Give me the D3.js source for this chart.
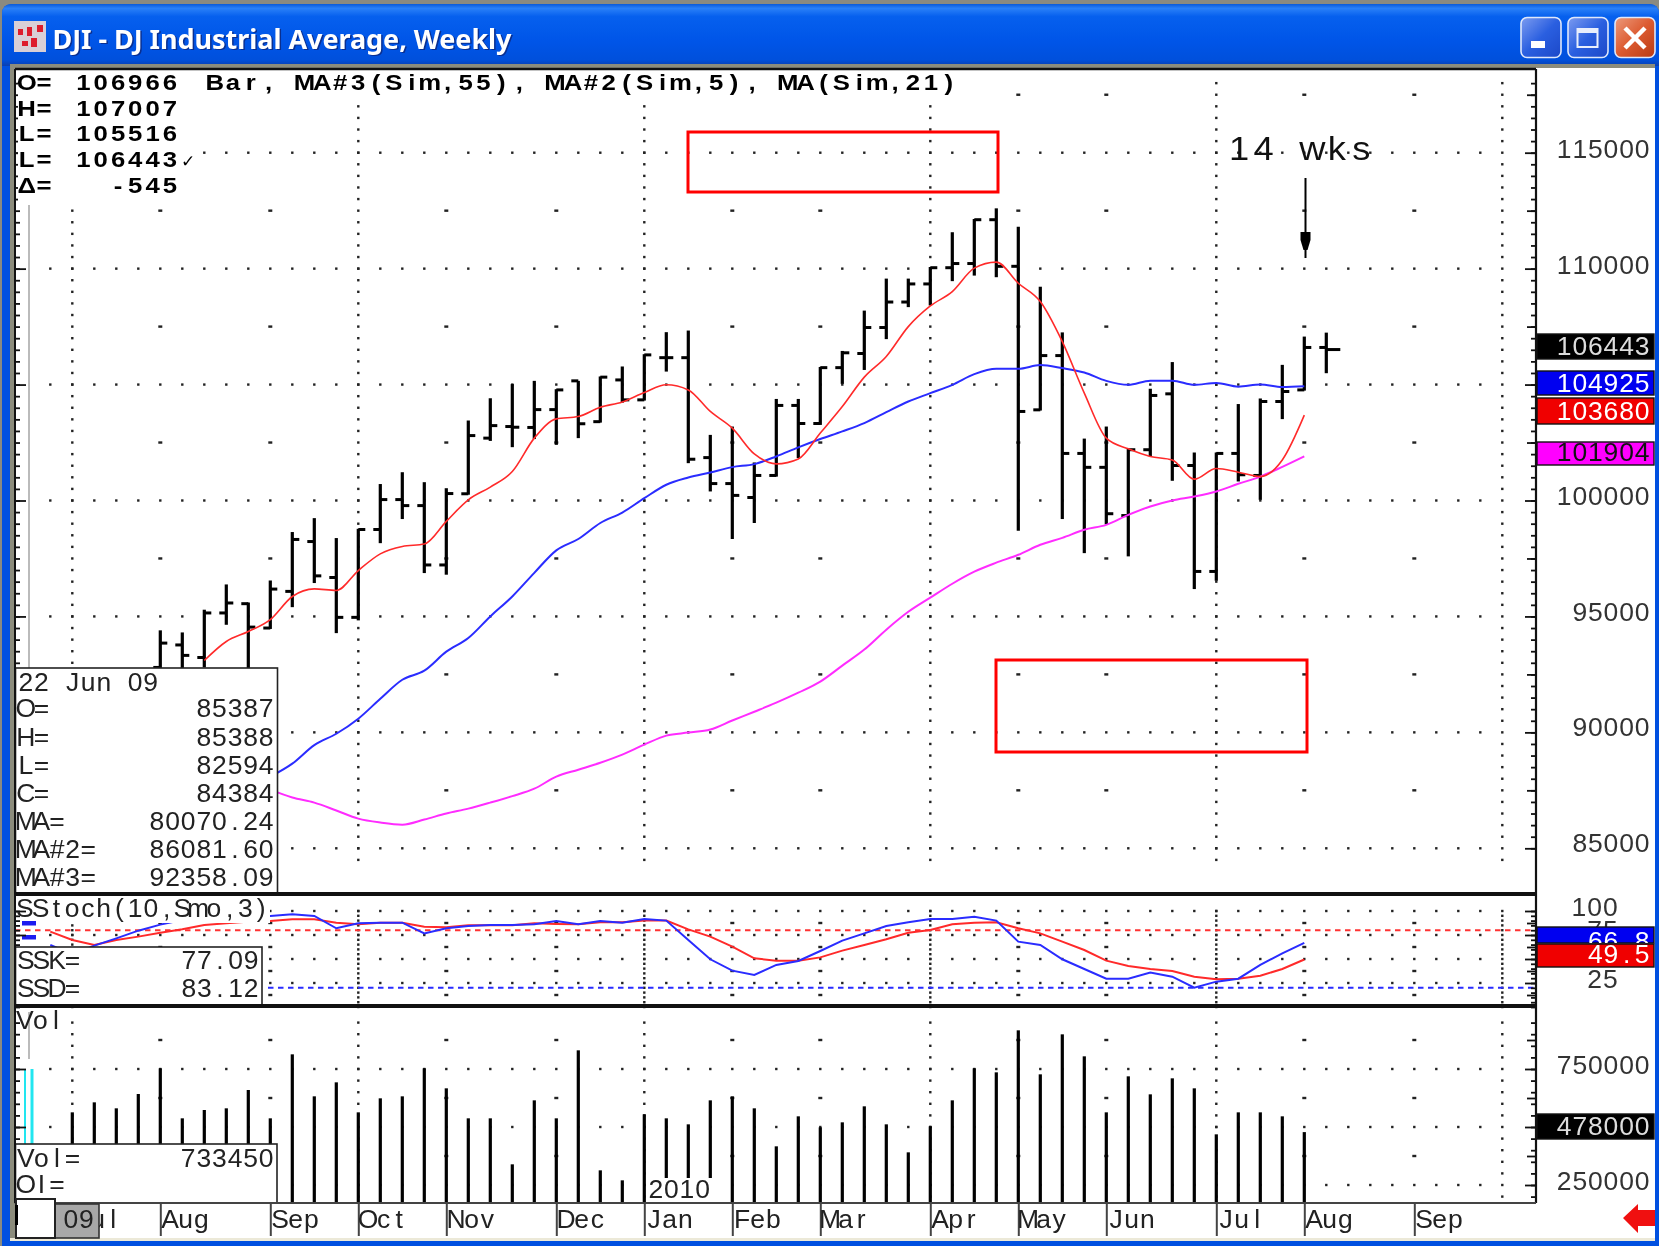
<!DOCTYPE html>
<html>
<head>
<meta charset="utf-8">
<title>DJI - DJ Industrial Average, Weekly</title>
<script src="https://cdn.jsdelivr.net/npm/d3@7"></script>
<style>
  html, body { margin: 0; padding: 0; background: #fff; }
  svg { display: block; filter: blur(0.45px); }
  text { font-family: "Liberation Sans", Arial, sans-serif; white-space: pre; }
</style>
</head>
<body>
<svg id="chart"></svg>
<script>
// Weekly bars, week 0 = first week of Jul 2009. Price bars start at week 4,
// the ones before that are hidden behind the data box.
const priceFirstWeek = 4;
const priceOpen = [92800,93770,93230,95150,95550,94500,96080,98230,96680,94960,98750,100040,99780,97220,100290,102690,103190,103150,103920,105160,103400,105200,104340,106160,106160,101850,100730,100130,101080,104100,103320,105730,106340,107460,108560,109340,110040,110220,112110,110100,103910,106250,102030,101430,99350,102190,104600,101510,96940,102030,101080,104270,104770,106600];
const priceHigh = [94400,94310,95290,96380,95600,96550,98640,99240,98380,98780,100710,101220,100790,100530,103450,104410,105020,105160,104800,105160,105350,105780,106310,107260,107330,102830,103190,101640,104380,104380,105760,106450,108190,109570,109570,110070,111570,112140,112600,111810,109220,107250,102670,103190,102220,104820,105970,102070,102070,104160,104400,105850,107070,107240];
const priceLow = [92300,92500,92800,94640,92600,94460,95400,96440,94280,94830,98160,99200,96870,96800,100250,102570,102300,102650,102400,102690,103360,104220,104310,105560,101610,100390,98340,99030,101030,101830,103260,105030,105630,106960,108340,108410,109460,109700,109630,98690,103880,99200,97730,98970,97590,101900,100850,96180,96540,100820,100030,103510,104740,105490];
const priceClose = [93850,93320,95150,95580,94540,96180,98320,96750,94960,98750,100040,99780,97220,100300,102800,103230,103160,103920,104770,103310,105320,104340,106280,106160,101780,100730,100220,101080,104100,103320,105730,106370,107460,108560,109340,110040,110220,112110,110100,103840,106250,102030,101430,99430,102190,104530,101510,96940,102030,101110,104270,104700,106600,106510];

// MA#2 (Sim,5), red, from week 6
const ma2First = 6;
const ma2 = [93100,93920,94350,94860,95860,96190,96120,96980,97700,98020,98120,99100,100030,100580,101250,102690,103520,103620,104020,104250,104660,104990,104770,103840,103120,102010,101580,101790,102910,104050,105320,106210,107500,108390,109010,110020,110280,109370,108580,106850,104630,102690,102230,101900,101750,100920,101380,101220,101030,101750,103680];
// MA (Sim,21), blue, from week 9
const ma1First = 9;
const ma1 = [88090,88650,89450,89940,90590,91450,92270,92660,93480,94070,95000,95860,96880,97850,98340,99030,99480,100100,100680,100990,101210,101440,101570,101900,102290,102650,102980,103340,103810,104270,104630,104990,105450,105680,105680,105840,105710,105520,105160,104990,105170,105170,104990,105070,104910,105000,104890,104925];
// MA#3 (Sim,55), magenta, from week 9
const ma3First = 9;
const ma3 = [87530,87190,86970,86630,86280,86110,86020,86240,86500,86710,86970,87250,87570,88090,88390,88690,89040,89470,89860,89990,90120,90510,90890,91280,91710,92190,92880,93570,94430,95200,95810,96410,96930,97320,97660,98090,98390,98740,98950,99380,99740,100000,100170,100390,100720,101030,101450,101904];

// Slow stochastic, from week -1
const stochFirst = -1;
const ssk = [64.6,55,63.9,71.5,79.5,85.8,90.6,92.4,94.1,94.8,94.8,96.5,94.8,82,87.2,87.8,87.8,76.7,82,84.4,85.4,85.4,86.1,89.6,86.1,89.6,87.8,91.7,90,69.8,49.7,37.9,33.3,43.8,47.9,58.3,69.1,76.7,84.4,88.2,91.7,91.7,94.1,90,68.1,64.6,49.7,39.6,29.5,29.5,35.8,31.6,20.1,26.4,29.5,43.8,55.9,66.8];
const ssd = [78.5,69.8,64.6,69.8,73.3,77.4,80.9,85.4,87.2,88.9,89.6,91.3,91.3,87.8,86.1,87.8,87.8,83.7,83,85.1,85.1,85.1,87.2,86.5,86.1,88.2,88.2,90,90,80.9,73.3,62.9,50.7,48.3,48.3,51.7,58.7,64.6,70.5,77.4,80.2,86.1,87.8,88.2,82,76.7,68.1,59.4,48.3,42.7,39.6,37.5,31.6,28.8,29.5,32.6,39.6,49.5];

// Volume, from week 0
const volume = [563200,606300,580500,642200,752900,537400,573300,580500,659500,537400,813200,632200,692500,563200,623600,632200,752900,666700,537400,537400,339100,614900,537400,830500,313200,270100,554600,537400,511500,614900,632200,580500,416700,546000,498600,520100,589100,511500,390800,502900,614900,752900,735600,916700,727000,899400,804600,563200,718400,640800,709800,666700,468400,563200,563200,546000,478000];

const monthNames = ["Jul","Aug","Sep","Oct","Nov","Dec","Jan","Feb","Mar","Apr","May","Jun","Jul","Aug","Sep"];
const monthWeeks = [0,4,9,13,17,22,26,30,34,39,43,47,52,56,61];
const quarterWeeks = [0,13,26,39,52,65];

const priceLabels = [115000,110000,100000,95000,90000,85000];
const volLabels = [750000,250000];

const hoverLines = [["O=","85387"],["H=","85388"],["L=","82594"],["C=","84384"],["MA=","80070.24"],["MA#2=","86081.60"],["MA#3=","92358.09"]];
const statLines = [["O=","106966"],["H=","107007"],["L=","105516"],["L=","106443"],["Δ=","-545"]];

const width = 1659, height = 1246;
const plot = {left: 15, right: 1536, top: 69, div1: 894, div2: 1006, bottom: 1203};

const svg = d3.select("#chart").attr("width", width).attr("height", height);

const x = d3.scaleLinear().domain([0, 56]).range([72.3, 1304.3]);
const yPrice = d3.scaleLinear().domain([85000, 115000]).range([848.3, 152.7]);
const yStoch = d3.scaleLinear().domain([0, 100]).range([1007, 911]);
const yVol = d3.scaleLinear().domain([250000, 750000]).range([1185, 1069]);
// the price labels drift a little against their ticks in the screenshot
const yPriceLabel = d3.scaleLinear().domain([85000, 115000]).range([851.8, 158]);

// text drawn in fixed width cells, like the original terminal font;
// stretch widens the glyphs a bit since the screenshot was scaled unevenly
function mono(g, str, px, py, o = {}) {
    const cell = o.cell || 15.6;
    const stretch = o.stretch || 1.06;
    const start = o.right ? px - str.length * cell : px;
    const xs = Array.from(str, (c, k) => ((start + cell * (k + 0.5)) / stretch).toFixed(1));
    return g.append("text")
        .attr("x", xs.join(" "))
        .attr("y", py)
        .attr("transform", `scale(${stretch},1)`)
        .attr("text-anchor", "middle")
        .attr("font-size", o.size || 25)
        .attr("font-weight", o.weight || "normal")
        .attr("fill", o.fill || "#222")
        .text(str);
}

// ---------- window frame ----------
const defs = svg.append("defs");
const titleGrad = defs.append("linearGradient").attr("id", "titleGrad").attr("x2", 0).attr("y2", 1);
[[0, "#0a5ad8"], [0.07, "#2a80f8"], [0.2, "#0660ee"], [0.6, "#0055e8"], [0.9, "#0050dc"], [1, "#0a3fb0"]]
    .forEach(s => titleGrad.append("stop").attr("offset", s[0]).attr("stop-color", s[1]));
const btnGrad = defs.append("linearGradient").attr("id", "btnGrad").attr("x2", 1).attr("y2", 1);
[[0, "#7d9cf0"], [0.5, "#2a5fe0"], [1, "#1c48c8"]]
    .forEach(s => btnGrad.append("stop").attr("offset", s[0]).attr("stop-color", s[1]));
const closeGrad = defs.append("linearGradient").attr("id", "closeGrad").attr("x2", 1).attr("y2", 1);
[[0, "#ec9a7c"], [0.5, "#dc5a30"], [1, "#b83a14"]]
    .forEach(s => closeGrad.append("stop").attr("offset", s[0]).attr("stop-color", s[1]));

svg.append("rect").attr("width", width).attr("height", height).attr("fill", "#8a8a80");
svg.append("path").attr("d", "M2 1246V14Q2 4 12 4H1649Q1659 4 1659 14V1246Z").attr("fill", "#0050e0");
svg.append("path").attr("d", "M2 66V14Q2 4 12 4H1649Q1659 4 1659 14V66Z").attr("fill", "url(#titleGrad)");
svg.append("rect").attr("x", 10).attr("y", 64).attr("width", 1645).attr("height", 1176).attr("fill", "#fff");
svg.append("rect").attr("x", 10).attr("y", 64).attr("width", 1645).attr("height", 4).attr("fill", "#8c8c7c");
svg.append("rect").attr("x", 10).attr("y", 64).attr("width", 5).attr("height", 1176).attr("fill", "#8c8c7c");
svg.append("rect").attr("x", 10).attr("y", 1238).attr("width", 1645).attr("height", 3).attr("fill", "#ece9d8");

// title icon
svg.append("rect").attr("x", 14).attr("y", 21).attr("width", 32).attr("height", 31).attr("fill", "#d9cfd6");
[[18, 29, 5, 6], [27, 27, 5, 9], [37, 25, 6, 7], [22, 41, 6, 5], [31, 38, 6, 9]]
    .forEach(r => svg.append("rect").attr("x", r[0]).attr("y", r[1]).attr("width", r[2]).attr("height", r[3]).attr("fill", "#dd1c2c"));

svg.append("text").attr("x", 54).attr("y", 50).attr("font-size", 27).attr("font-weight", "bold")
    .attr("fill", "#0a2f90").attr("textLength", 459).style("font-family", "'Noto Sans'")
    .text("DJI - DJ Industrial Average, Weekly");
svg.append("text").attr("x", 52.5).attr("y", 48.5).attr("font-size", 27).attr("font-weight", "bold")
    .attr("fill", "#fff").attr("textLength", 459).style("font-family", "'Noto Sans'")
    .text("DJI - DJ Industrial Average, Weekly");

// window buttons
[[1521, "url(#btnGrad)"], [1568, "url(#btnGrad)"], [1615, "url(#closeGrad)"]].forEach(b => {
    svg.append("rect").attr("x", b[0]).attr("y", 17.5).attr("width", 40).attr("height", 40).attr("rx", 6)
        .attr("fill", b[1]).attr("stroke", "#dfe8fb").attr("stroke-width", 1.6);
});
svg.append("rect").attr("x", 1531).attr("y", 41).attr("width", 14).attr("height", 7).attr("fill", "#fff");
svg.append("rect").attr("x", 1577.5).attr("y", 29).attr("width", 20).attr("height", 18).attr("fill", "none").attr("stroke", "#e8eefc").attr("stroke-width", 2);
svg.append("rect").attr("x", 1577).attr("y", 28).attr("width", 21).attr("height", 5).attr("fill", "#e8eefc");
svg.append("path").attr("d", "M1625 28L1645 48M1645 28L1625 48").attr("stroke", "#fff").attr("stroke-width", 4.5);

// ---------- grid ----------
const dotWeeks = d3.range(-1, 65);
const grid = svg.append("g").attr("fill", "#222");

function rowDots(levels, scale) {
    levels.forEach(v => {
        grid.selectAll(null).data(dotWeeks).join("rect")
            .attr("x", d => x(d) - 1.2).attr("y", scale(v) - 1.2)
            .attr("width", 2.4).attr("height", 2.4);
    });
}
function colDots(levels, scale) {
    quarterWeeks.forEach(w => {
        grid.selectAll(null).data(levels).join("rect")
            .attr("x", x(w) - 1.2).attr("y", d => scale(d) - 1.2)
            .attr("width", 2.4).attr("height", 2.4);
    });
}
function monthDashes(levels, scale) {
    const weeks = monthWeeks.filter(w => !quarterWeeks.includes(w));
    levels.forEach(v => {
        grid.selectAll(null).data(weeks).join("rect")
            .attr("x", d => x(d) - 2).attr("y", scale(v) - 1.2)
            .attr("width", 4).attr("height", 2.4);
    });
}

rowDots(d3.range(85000, 115001, 5000), yPrice);
colDots(d3.range(84500, 118300, 500), yPrice);
monthDashes(d3.range(87500, 117501, 5000), yPrice);

rowDots([25, 50, 75, 100], yStoch);
colDots(d3.range(0, 101, 5), yStoch);
monthDashes([12.5, 37.5, 62.5, 87.5], yStoch);

rowDots([250000, 500000, 750000], yVol);
colDots(d3.range(200000, 950001, 50000), yVol);
monthDashes([375000, 625000, 875000], yVol);

// ---------- price bars ----------
const bars = svg.append("g").attr("stroke", "#000").attr("fill", "none");
const priceWeeks = priceOpen.map((d, i) => i + priceFirstWeek);

bars.selectAll(".hl").data(priceWeeks).join("line").attr("class", "hl")
    .attr("stroke-width", 3.2)
    .attr("x1", d => x(d)).attr("x2", d => x(d))
    .attr("y1", d => yPrice(priceHigh[d - priceFirstWeek]))
    .attr("y2", d => yPrice(priceLow[d - priceFirstWeek]));
bars.selectAll(".op").data(priceWeeks).join("line").attr("class", "op")
    .attr("stroke-width", 3)
    .attr("x1", d => x(d) - 7).attr("x2", d => x(d))
    .attr("y1", d => yPrice(priceOpen[d - priceFirstWeek]))
    .attr("y2", d => yPrice(priceOpen[d - priceFirstWeek]));
bars.selectAll(".cl").data(priceWeeks).join("line").attr("class", "cl")
    .attr("stroke-width", 3)
    .attr("x1", d => x(d)).attr("x2", d => x(d) + (d === 57 ? 14 : 7))
    .attr("y1", d => yPrice(priceClose[d - priceFirstWeek]))
    .attr("y2", d => yPrice(priceClose[d - priceFirstWeek]));

// ---------- moving averages ----------
function series(values, first, scale, color, w, g, curve) {
    const line = d3.line().x((d, i) => x(i + first)).y(d => scale(d)).curve(curve || d3.curveLinear);
    (g || svg).append("path").attr("d", line(values))
        .attr("fill", "none").attr("stroke", color).attr("stroke-width", w);
}
series(ma3, ma3First, yPrice, "#ff2cff", 2, null, d3.curveMonotoneX);
series(ma1, ma1First, yPrice, "#2a2cff", 2, null, d3.curveMonotoneX);
series(ma2, ma2First, yPrice, "#ff2a2a", 1.6, null, d3.curveMonotoneX);

// annotation
svg.append("rect").attr("x", 688).attr("y", 132).attr("width", 310).attr("height", 60)
    .attr("fill", "none").attr("stroke", "#f00").attr("stroke-width", 3);
svg.append("rect").attr("x", 996).attr("y", 660).attr("width", 311).attr("height", 92)
    .attr("fill", "none").attr("stroke", "#f00").attr("stroke-width", 3);
mono(svg, "14 wks", 1227, 160, {cell: 24.4, size: 33, fill: "#111", stretch: 1.1});
svg.append("line").attr("x1", 1305.5).attr("x2", 1305.5).attr("y1", 178).attr("y2", 258)
    .attr("stroke", "#000").attr("stroke-width", 2);
svg.append("path").attr("d", "M1300.5 232H1310.5V240L1307.5 250H1303.5L1300.5 240Z").attr("fill", "#000");

// ---------- stochastic pane ----------
svg.append("rect").attr("x", plot.left).attr("y", plot.div1).attr("width", 255).attr("height", 29).attr("fill", "#fff");
[[22, 921], [22, 935]].forEach(p => svg.append("rect").attr("x", p[0]).attr("y", p[1]).attr("width", 14).attr("height", 4.5).attr("fill", "#1c1cf0"));
svg.append("line").attr("x1", plot.left).attr("x2", plot.right).attr("y1", yStoch(80)).attr("y2", yStoch(80))
    .attr("stroke", "#f33").attr("stroke-width", 2).attr("stroke-dasharray", "5.5 4.5");
svg.append("line").attr("x1", 268).attr("x2", plot.right).attr("y1", yStoch(20)).attr("y2", yStoch(20))
    .attr("stroke", "#2a2cff").attr("stroke-width", 2).attr("stroke-dasharray", "5.5 4.5");

const stochG = svg.append("g");
const stochClip = defs.append("clipPath").attr("id", "stochClip");
stochClip.append("rect").attr("x", plot.left).attr("y", 923).attr("width", 270).attr("height", 80);
stochClip.append("rect").attr("x", 270).attr("y", plot.div1).attr("width", plot.right - 270).attr("height", 110);
stochG.attr("clip-path", "url(#stochClip)");
series(ssd, stochFirst, yStoch, "#ff2a2a", 2, stochG);
series(ssk, stochFirst, yStoch, "#2a2cff", 2, stochG);
mono(svg, "SStoch(10,Smo,3)", 17, 917, {cell: 15.75});

// ---------- volume pane ----------
svg.append("line").attr("x1", 25).attr("x2", 25).attr("y1", yVol(750000)).attr("y2", 1144).attr("stroke", "#22e6f0").attr("stroke-width", 2);
svg.append("line").attr("x1", 32).attr("x2", 32).attr("y1", yVol(750000)).attr("y2", 1144).attr("stroke", "#22e6f0").attr("stroke-width", 3);
svg.append("line").attr("x1", 29).attr("x2", 29).attr("y1", 200).attr("y2", 668).attr("stroke", "#bbb").attr("stroke-width", 2);
svg.append("line").attr("x1", 29).attr("x2", 29).attr("y1", 1012).attr("y2", 1059).attr("stroke", "#bbb").attr("stroke-width", 2);

svg.append("g").selectAll("line").data(volume).join("line")
    .attr("stroke", "#000").attr("stroke-width", 3.2)
    .attr("x1", (d, i) => x(i)).attr("x2", (d, i) => x(i))
    .attr("y1", d => yVol(d)).attr("y2", plot.bottom);
mono(svg, "Vol", 17, 1029, {cell: 15.6});

svg.append("rect").attr("x", 648).attr("y", 1178).attr("width", 64).attr("height", 24).attr("fill", "#fff");
mono(svg, "2010", 648, 1198, {cell: 15.6});

// ---------- axis ticks ----------
function ticks(axisFn, scale, values, size, tx) {
    const g = svg.append("g").attr("transform", tx)
        .call(axisFn(scale).tickValues(values).tickSize(size).tickFormat(""));
    g.select(".domain").remove();
    g.selectAll("line").attr("stroke", "#111").attr("stroke-width", 1.8);
}
const side = [
    [yPrice, d3.range(85000, 118001, 500), d3.range(87500, 117501, 5000), d3.range(85000, 115001, 5000)],
    [yStoch, d3.range(0, 101, 5), [12.5, 37.5, 62.5, 87.5], [25, 50, 75, 100]],
    [yVol, d3.range(200000, 950001, 50000), [375000, 625000, 875000], [250000, 500000, 750000]]
];
side.forEach(s => {
    ticks(d3.axisLeft, s[0], s[1], 5, `translate(${plot.right},0)`);
    ticks(d3.axisLeft, s[0], s[2], 9, `translate(${plot.right},0)`);
    ticks(d3.axisLeft, s[0], s[3], 11, `translate(${plot.right},0)`);
    ticks(d3.axisRight, s[0], s[1], 5, `translate(${plot.left},0)`);
    ticks(d3.axisRight, s[0], s[3], 11, `translate(${plot.left},0)`);
});

// ---------- info boxes ----------
const boxes = svg.append("g");
boxes.append("rect").attr("x", 18).attr("y", 70).attr("width", 185).attr("height", 135).attr("fill", "#fff");
boxes.append("rect").attr("x", 18).attr("y", 70).attr("width", 942).attr("height", 33).attr("fill", "#fff");
statLines.forEach((d, i) => {
    const py = 90.5 + [0, 25.5, 51, 77, 103][i];
    mono(boxes, d[0], 18, py, {cell: 17.3, size: 23, weight: "bold", fill: "#000", stretch: 1.12});
    mono(boxes, d[1], 178.6, py, {cell: 17.3, size: 23, weight: "bold", fill: "#000", right: true, stretch: 1.12});
});
boxes.append("text").attr("x", 181).attr("y", 167).attr("font-size", 17).attr("font-weight", "bold")
    .style("font-family", "'DejaVu Sans'").text("✓");
mono(boxes, "Bar, MA#3(Sim,55), MA#2(Sim,5), MA(Sim,21)", 206, 90.5, {cell: 17.9, size: 23, weight: "bold", fill: "#000", stretch: 1.12});

boxes.append("rect").attr("x", plot.left + 0.5).attr("y", 668).attr("width", 262).attr("height", 226)
    .attr("fill", "#fff").attr("stroke", "#222").attr("stroke-width", 1.6);
mono(boxes, "22 Jun 09", 18, 691);
hoverLines.forEach((d, i) => {
    const py = 717.5 + i * 28.05;
    mono(boxes, d[0], 18, py);
    mono(boxes, d[1], 274, py, {right: true});
});

boxes.append("rect").attr("x", plot.left + 0.5).attr("y", 947).attr("width", 246.5).attr("height", 58)
    .attr("fill", "#fff").attr("stroke", "#222").attr("stroke-width", 1.6);
mono(boxes, "SSK=", 18, 969);
mono(boxes, "77.09", 259, 969, {right: true});
mono(boxes, "SSD=", 18, 997.5);
mono(boxes, "83.12", 259, 997.5, {right: true});

boxes.append("rect").attr("x", plot.left + 0.5).attr("y", 1144).attr("width", 261.5).attr("height", 59)
    .attr("fill", "#fff").attr("stroke", "#222").attr("stroke-width", 1.6);
mono(boxes, "Vol=", 18, 1167);
mono(boxes, "733450", 274, 1167, {right: true});
mono(boxes, "OI=", 18, 1193);

// ---------- pane frames ----------
const frame = svg.append("g").attr("stroke", "#111").attr("fill", "none");
frame.append("line").attr("x1", plot.left).attr("x2", plot.right).attr("y1", plot.top).attr("y2", plot.top).attr("stroke-width", 2.5);
frame.append("line").attr("x1", plot.left).attr("x2", plot.left).attr("y1", plot.top).attr("y2", plot.bottom).attr("stroke-width", 2);
frame.append("line").attr("x1", plot.right).attr("x2", plot.right).attr("y1", plot.top).attr("y2", plot.bottom).attr("stroke-width", 2.2);
frame.append("line").attr("x1", plot.left).attr("x2", plot.right).attr("y1", plot.div1).attr("y2", plot.div1).attr("stroke-width", 4);
frame.append("line").attr("x1", plot.left).attr("x2", plot.right).attr("y1", plot.div2).attr("y2", plot.div2).attr("stroke-width", 4);
frame.append("line").attr("x1", plot.left).attr("x2", plot.right).attr("y1", plot.bottom).attr("y2", plot.bottom).attr("stroke", "#444").attr("stroke-width", 2);

// ---------- date axis ----------
const timeAxis = svg.append("g").attr("transform", `translate(0,${plot.bottom})`)
    .call(d3.axisBottom(x).tickValues(monthWeeks).tickSize(33).tickFormat(""));
timeAxis.select(".domain").remove();
timeAxis.selectAll("line").attr("stroke", "#444").attr("stroke-width", 2);
monthWeeks.forEach((w, i) => mono(svg, monthNames[i], x(w) + 2, 1228, {cell: 15.6}));

svg.append("rect").attr("x", 55).attr("y", 1204).attr("width", 44).attr("height", 34).attr("fill", "#a8a8a8").attr("stroke", "#333").attr("stroke-width", 1.6);
mono(svg, "09", 63, 1228);
svg.append("rect").attr("x", 16).attr("y", 1199).attr("width", 39).attr("height", 39).attr("fill", "#fff").attr("stroke", "#222").attr("stroke-width", 2);
svg.append("rect").attr("x", 15).attr("y", 1205).attr("width", 3).attr("height", 20).attr("fill", "#000");

// ---------- right hand labels ----------
const labels = svg.append("g");
priceLabels.forEach(v => mono(labels, String(v), 1650, yPriceLabel(v), {right: true, fill: "#333"}));
volLabels.forEach(v => mono(labels, String(v), 1650, yVol(v) + 5.5, {right: true, fill: "#333"}));
mono(labels, "100", 1618, 916.5, {right: true, fill: "#333"});
mono(labels, "75", 1618, 939, {right: true, fill: "#333"});
mono(labels, "25", 1618, 988, {right: true, fill: "#333"});

function valueBox(y0, y1, fill, str, base, color) {
    const id = "clip" + str.replace(".", "");
    defs.append("clipPath").attr("id", id).append("rect").attr("x", plot.right).attr("y", y0).attr("width", 120).attr("height", y1 - y0);
    labels.append("rect").attr("x", plot.right + 1).attr("y", y0).attr("width", 117).attr("height", y1 - y0)
        .attr("fill", fill).attr("stroke", "#111").attr("stroke-width", 1.4);
    mono(labels.append("g").attr("clip-path", `url(#${id})`), str, 1650, base, {right: true, fill: color});
}
valueBox(334, 359, "#000", "106443", 355, "#ddd");
valueBox(371, 395, "#0000f0", "104925", 392, "#fff");
valueBox(398, 424, "#f00000", "103680", 420, "#fff");
valueBox(442, 465, "#ff00ff", "101904", 461, "#111");
valueBox(927, 943, "#0000f0", "66.8", 950, "#fff");
valueBox(944, 967, "#f00000", "49.5", 963, "#fff");
valueBox(1114, 1139, "#000", "478000", 1135, "#ddd");

svg.append("path").attr("d", "M1623 1218L1638 1204V1210H1655V1226H1638V1233Z").attr("fill", "#f01010");
</script>
</body>
</html>
